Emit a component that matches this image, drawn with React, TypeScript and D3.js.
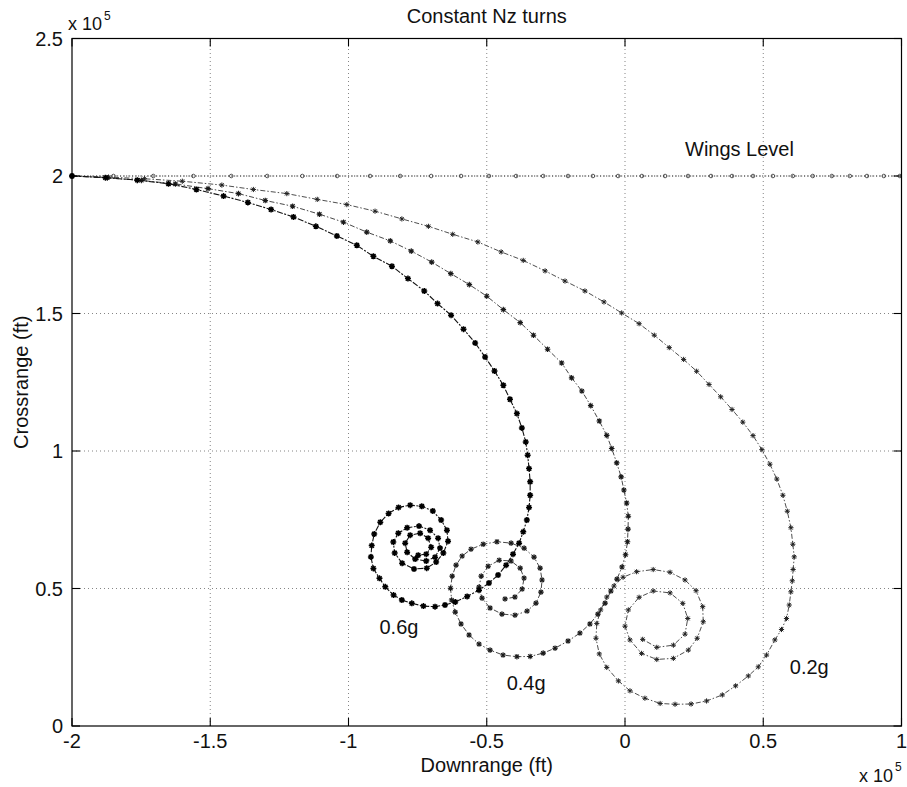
import React from "react";
import * as d3 from "d3";

// ---- axis ticks ----
const xTicks = [-2, -1.5, -1, -0.5, 0, 0.5, 1];
const xTickLabels = ["-2", "-1.5", "-1", "-0.5", "0", "0.5", "1"];
const yTicks = [0, 0.5, 1, 1.5, 2, 2.5];
const yTickLabels = ["0", "0.5", "1", "1.5", "2", "2.5"];

// ---- data (units of 1e5 ft) ----
const wingsLevel: [number, number][] = [
  [-2.0, 2.0], [-1.85, 2.0], [-1.706, 2.0], [-1.561, 2.0], [-1.424, 2.0], [-1.294, 2.0],
  [-1.167, 2.0], [-1.041, 2.0], [-0.922, 2.0], [-0.813, 2.0], [-0.701, 2.0], [-0.593, 2.0],
  [-0.492, 2.0], [-0.394, 2.0], [-0.296, 2.0], [-0.206, 2.0], [-0.116, 2.0], [-0.025, 2.0],
  [0.061, 2.0], [0.145, 2.0], [0.228, 2.0], [0.311, 2.0], [0.387, 2.0], [0.463, 2.0],
  [0.535, 2.0], [0.607, 2.0], [0.679, 2.0], [0.748, 2.0], [0.813, 2.0], [0.875, 2.0],
  [0.936, 2.0], [0.994, 2.0],
];

const turn02g: [number, number][] = [
  [-2.0, 2.0], [-1.868, 1.996], [-1.738, 1.99], [-1.601, 1.981], [-1.458, 1.967], [-1.344, 1.951],
  [-1.223, 1.936], [-1.113, 1.915], [-1.006, 1.896], [-0.904, 1.872], [-0.807, 1.844], [-0.711, 1.817],
  [-0.623, 1.788], [-0.532, 1.76], [-0.448, 1.724], [-0.368, 1.693], [-0.289, 1.655], [-0.217, 1.618],
  [-0.145, 1.582], [-0.076, 1.542], [-0.012, 1.502], [0.051, 1.463], [0.106, 1.421], [0.16, 1.376],
  [0.212, 1.333], [0.259, 1.29], [0.304, 1.242], [0.346, 1.197], [0.387, 1.151], [0.426, 1.105],
  [0.463, 1.056], [0.495, 1.005], [0.524, 0.952], [0.549, 0.898], [0.571, 0.839], [0.587, 0.781],
  [0.6, 0.721], [0.607, 0.661], [0.612, 0.615], [0.608, 0.569], [0.605, 0.528], [0.6, 0.488],
  [0.594, 0.44], [0.584, 0.391], [0.566, 0.351], [0.542, 0.313], [0.512, 0.258], [0.482, 0.215],
  [0.446, 0.182], [0.4, 0.146], [0.352, 0.113], [0.295, 0.091], [0.239, 0.08], [0.181, 0.079],
  [0.127, 0.082], [0.072, 0.101], [0.018, 0.128], [-0.024, 0.164], [-0.066, 0.213], [-0.093, 0.262],
  [-0.105, 0.319], [-0.102, 0.373], [-0.088, 0.422], [-0.066, 0.469], [-0.04, 0.509], [-0.007, 0.541],
  [0.042, 0.561], [0.102, 0.569], [0.163, 0.559], [0.217, 0.531], [0.257, 0.492], [0.281, 0.434],
  [0.283, 0.379], [0.261, 0.319], [0.229, 0.276], [0.175, 0.246], [0.115, 0.242], [0.06, 0.264],
  [0.018, 0.313], [0.0, 0.363], [0.012, 0.422], [0.051, 0.468], [0.102, 0.491], [0.163, 0.484],
  [0.209, 0.446], [0.227, 0.391], [0.217, 0.334], [0.175, 0.294], [0.115, 0.286], [0.064, 0.315],
];

const turn04g: [number, number][] = [
  [-2.0, 2.0], [-1.872, 1.993], [-1.749, 1.984], [-1.626, 1.971], [-1.508, 1.954], [-1.398, 1.936],
  [-1.301, 1.911], [-1.202, 1.89], [-1.105, 1.861], [-1.018, 1.832], [-0.934, 1.796], [-0.849, 1.764],
  [-0.773, 1.727], [-0.699, 1.687], [-0.63, 1.645], [-0.563, 1.605], [-0.5, 1.563], [-0.44, 1.514],
  [-0.379, 1.467], [-0.331, 1.421], [-0.28, 1.37], [-0.229, 1.32], [-0.193, 1.266], [-0.156, 1.218],
  [-0.124, 1.165], [-0.093, 1.109], [-0.066, 1.057], [-0.048, 1.009], [-0.03, 0.957], [-0.014, 0.906],
  [-0.004, 0.858], [0.006, 0.811], [0.012, 0.763], [0.011, 0.716], [0.009, 0.67], [0.002, 0.623],
  [-0.011, 0.578], [-0.029, 0.534], [-0.051, 0.491], [-0.072, 0.447], [-0.098, 0.407], [-0.127, 0.371],
  [-0.163, 0.338], [-0.206, 0.309], [-0.253, 0.283], [-0.296, 0.265], [-0.343, 0.253], [-0.391, 0.252],
  [-0.441, 0.258], [-0.488, 0.276], [-0.528, 0.298], [-0.564, 0.331], [-0.593, 0.371], [-0.614, 0.414],
  [-0.627, 0.458], [-0.631, 0.501], [-0.625, 0.545], [-0.611, 0.585], [-0.589, 0.618], [-0.557, 0.643],
  [-0.513, 0.661], [-0.463, 0.67], [-0.412, 0.665], [-0.365, 0.647], [-0.329, 0.614], [-0.307, 0.574],
  [-0.3, 0.531], [-0.304, 0.487], [-0.322, 0.447], [-0.354, 0.418], [-0.398, 0.403], [-0.445, 0.407],
  [-0.488, 0.429], [-0.517, 0.465], [-0.528, 0.505], [-0.52, 0.545], [-0.495, 0.581], [-0.455, 0.603],
  [-0.412, 0.6], [-0.379, 0.574], [-0.365, 0.538], [-0.372, 0.498], [-0.398, 0.469], [-0.434, 0.462],
];

const turn06g: [number, number][] = [
  [-2.0, 2.0], [-1.879, 1.994], [-1.764, 1.985], [-1.651, 1.972], [-1.55, 1.951], [-1.452, 1.927],
  [-1.364, 1.904], [-1.28, 1.878], [-1.199, 1.851], [-1.118, 1.817], [-1.042, 1.782], [-0.97, 1.748],
  [-0.91, 1.708], [-0.843, 1.672], [-0.785, 1.627], [-0.726, 1.582], [-0.678, 1.536], [-0.629, 1.494],
  [-0.584, 1.443], [-0.542, 1.393], [-0.506, 1.342], [-0.472, 1.291], [-0.44, 1.239], [-0.416, 1.188],
  [-0.391, 1.136], [-0.373, 1.084], [-0.359, 1.033], [-0.352, 0.985], [-0.347, 0.936], [-0.343, 0.888],
  [-0.343, 0.839], [-0.347, 0.795], [-0.355, 0.749], [-0.368, 0.706], [-0.383, 0.665], [-0.405, 0.625],
  [-0.43, 0.585], [-0.459, 0.549], [-0.492, 0.52], [-0.528, 0.494], [-0.571, 0.471], [-0.614, 0.451],
  [-0.651, 0.44], [-0.687, 0.434], [-0.729, 0.436], [-0.771, 0.446], [-0.807, 0.458], [-0.837, 0.476],
  [-0.867, 0.506], [-0.888, 0.537], [-0.91, 0.573], [-0.919, 0.615], [-0.916, 0.656], [-0.907, 0.698],
  [-0.885, 0.741], [-0.855, 0.773], [-0.819, 0.795], [-0.777, 0.803], [-0.735, 0.799], [-0.695, 0.782],
  [-0.665, 0.749], [-0.644, 0.712], [-0.64, 0.672], [-0.657, 0.629], [-0.683, 0.596], [-0.717, 0.574],
  [-0.763, 0.571], [-0.806, 0.592], [-0.833, 0.629], [-0.838, 0.669], [-0.82, 0.701], [-0.788, 0.721],
  [-0.745, 0.727], [-0.705, 0.712], [-0.676, 0.683], [-0.669, 0.647], [-0.687, 0.614], [-0.719, 0.6],
  [-0.759, 0.607], [-0.788, 0.632], [-0.795, 0.665], [-0.777, 0.694], [-0.741, 0.701], [-0.712, 0.683],
  [-0.701, 0.65], [-0.719, 0.625], [-0.748, 0.621],
];

// text annotations anchored in data coordinates
const annotations = [
  { text: "Wings Level", x: 0.217, y: 2.071 },
  { text: "0.6g", x: -0.888, y: 0.334 },
  { text: "0.4g", x: -0.428, y: 0.131 },
  { text: "0.2g", x: 0.596, y: 0.189 },
];

const W = 907;
const H = 787;
const FONT = "'Liberation Sans', Arial, Helvetica, sans-serif";

function starPath(cx: number, cy: number, s: number) {
  const d = s * 0.72;
  return `M${cx - s},${cy}L${cx + s},${cy}M${cx},${cy - s}L${cx},${cy + s}` +
    `M${cx - d},${cy - d}L${cx + d},${cy + d}M${cx - d},${cy + d}L${cx + d},${cy - d}`;
}

export default function App() {
  const x = d3.scaleLinear().domain([-2, 1]).range([72, 901.5]);
  const y = d3.scaleLinear().domain([0, 2.5]).range([726, 38.5]);
  const line = d3.line<[number, number]>().x((d) => x(d[0])).y((d) => y(d[1]));

  const series = [
    { data: turn02g, stroke: "#3a3a3a", width: 0.9, dash: "5,2,1.5,2", marker: "star", ms: 2.6, mw: 1.0, mc: "#222" },
    { data: turn04g, stroke: "#333", width: 0.9, dash: "5,2,1.5,2", marker: "star", ms: 2.8, mw: 1.1, mc: "#1a1a1a" },
    { data: turn06g, stroke: "#111", width: 1.1, dash: "6,1.5,2,1.5", marker: "star", ms: 3.0, mw: 1.5, mc: "#000" },
  ];

  const x0 = x(-2), x1 = x(1), y0 = y(0), y1 = y(2.5);
  const tl = 8;

  return (
    <svg width={W} height={H} style={{ position: "absolute", left: 0, top: 0, background: "#fff" }}
      fontFamily={FONT}>
      <rect x={0} y={0} width={W} height={H} fill="#fff" />
      {/* grid */}
      <g stroke="#777" strokeWidth={0.9} strokeDasharray="1,3">
        {xTicks.slice(1, -1).map((t) => (
          <line key={"gx" + t} x1={x(t)} x2={x(t)} y1={y0} y2={y1} />
        ))}
        {yTicks.slice(1, -1).map((t) => (
          <line key={"gy" + t} x1={x0} x2={x1} y1={y(t)} y2={y(t)} />
        ))}
      </g>

      {/* wings level */}
      <path d={line(wingsLevel) || ""} fill="none" stroke="#444" strokeWidth={1} strokeDasharray="1.2,1.8" />
      {wingsLevel.map((p, i) => (
        <circle key={"wl" + i} cx={x(p[0])} cy={y(p[1])} r={1.8} fill="none" stroke="#444" strokeWidth={0.9} />
      ))}

      {series.map((s, si) => (
        <g key={"s" + si}>
          <path d={line(s.data) || ""} fill="none" stroke={s.stroke} strokeWidth={s.width} strokeDasharray={s.dash} />
          <path
            d={s.data.map((p) => starPath(x(p[0]), y(p[1]), s.ms)).join("")}
            fill="none" stroke={s.mc} strokeWidth={s.mw}
          />
        </g>
      ))}

      {/* box */}
      <rect x={x0} y={y1} width={x1 - x0} height={y0 - y1} fill="none" stroke="#000" strokeWidth={1.2} />
      {/* ticks */}
      <g stroke="#000" strokeWidth={1.1}>
        {xTicks.map((t) => (
          <g key={"tx" + t}>
            <line x1={x(t)} x2={x(t)} y1={y0} y2={y0 - tl} />
            <line x1={x(t)} x2={x(t)} y1={y1} y2={y1 + tl} />
          </g>
        ))}
        {yTicks.map((t) => (
          <g key={"ty" + t}>
            <line x1={x0} x2={x0 + tl} y1={y(t)} y2={y(t)} />
            <line x1={x1} x2={x1 - tl} y1={y(t)} y2={y(t)} />
          </g>
        ))}
      </g>

      {/* tick labels */}
      <g fontSize={20} fill="#111">
        {xTicks.map((t, i) => (
          <text key={"lx" + t} x={x(t)} y={748} textAnchor="middle">{xTickLabels[i]}</text>
        ))}
        {yTicks.map((t, i) => (
          <text key={"ly" + t} x={63} y={y(t) + 7} textAnchor="end">{yTickLabels[i]}</text>
        ))}
      </g>

      {/* exponent labels */}
      <text x={68} y={30} fontSize={18} fill="#111">x 10</text>
      <text x={104} y={20} fontSize={12} fill="#111">5</text>
      <text x={859} y={782} fontSize={18} fill="#111">x 10</text>
      <text x={895} y={771} fontSize={12} fill="#111">5</text>

      {/* title and axis labels */}
      <text x={(x0 + x1) / 2} y={23} fontSize={20} textAnchor="middle" fill="#111">Constant Nz turns</text>
      <text x={(x0 + x1) / 2} y={772} fontSize={20} textAnchor="middle" fill="#111">Downrange (ft)</text>
      <text transform={`translate(28,${(y0 + y1) / 2}) rotate(-90)`} fontSize={20} textAnchor="middle" fill="#111">
        Crossrange (ft)
      </text>

      {annotations.map((a) => (
        <text key={a.text} x={x(a.x)} y={y(a.y)} fontSize={20} fill="#111">{a.text}</text>
      ))}
    </svg>
  );
}
